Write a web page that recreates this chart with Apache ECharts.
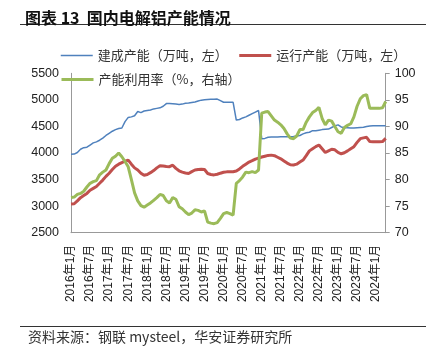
<!DOCTYPE html>
<html><head><meta charset="utf-8">
<script src="https://cdn.jsdelivr.net/npm/echarts@6/dist/echarts.min.js"></script>
<style>html,body{margin:0;padding:0;background:#fff}#c{width:426px;height:355px}</style>
</head><body><div id="c"></div>
<script>
// categories: monthly from 2016年1月 to 2024年4月
const startYear = 2016, monthCount = 100;
const categories = [];
for (let i = 0; i < monthCount; i++) {
  categories.push((startYear + Math.floor(i / 12)) + '年' + (i % 12 + 1) + '月');
}
const seriesNames = ['建成产能（万吨，左）', '运行产能（万吨，左）', '产能利用率（%，右轴）'];
const leftTicks = { min: 2500, max: 5500, interval: 500 };
const rightTicks = { min: 70, max: 100, interval: 5 };

const builtCapacity = [
3975,3980,4010,4070,4100,4110,4150,4190,4210,4240,
4280,4330,4370,4410,4440,4460,4470,4590,4670,4680,
4700,4780,4760,4790,4800,4810,4830,4840,4850,4880,
4930,4930,4925,4920,4915,4920,4935,4940,4950,4960,
4980,4995,5000,5005,5010,5010,5015,4985,4955,4955,
4955,4955,4620,4630,4660,4680,4710,4740,4770,4800,
4270,4275,4295,4300,4300,4300,4305,4305,4305,4305,
4310,4320,4330,4360,4380,4390,4420,4420,4430,4440,
4445,4450,4480,4510,4530,4490,4475,4475,4470,4470,
4475,4480,4485,4500,4510,4512,4512,4515,4515,4515];

const runningCapacity = [
3040,3045,3100,3160,3200,3240,3300,3335,3370,3430,
3490,3560,3620,3690,3750,3790,3820,3845,3865,3790,
3720,3680,3620,3580,3595,3630,3670,3720,3760,3755,
3745,3742,3770,3710,3665,3640,3625,3615,3650,3680,
3690,3692,3690,3615,3595,3588,3600,3620,3637,3645,
3648,3648,3660,3700,3750,3790,3830,3855,3885,3905,
3925,3940,3955,3960,3950,3920,3890,3850,3810,3778,
3775,3790,3830,3868,3950,4040,4080,4120,4150,4080,
4010,4040,4070,4060,4010,3985,4005,4040,4080,4119,
4200,4270,4285,4295,4215,4210,4212,4212,4215,4276];

const utilizationRate = [
76.6,76.7,77.2,77.4,77.8,78.6,79.3,79.6,79.8,80.9,
81.4,81.8,83.0,84.0,84.4,85.0,84.3,83.4,82.4,80.0,
77.5,76.0,75.1,74.8,75.2,75.6,76.1,76.6,77.2,77.0,
76.0,75.6,76.6,76.3,74.9,74.5,73.9,73.4,73.7,74.3,
74.2,73.9,74.1,72.0,71.8,71.7,71.9,72.7,73.6,73.8,
73.6,73.3,79.3,79.8,80.5,81.4,81.3,81.5,81.3,81.8,
92.5,92.7,92.8,92.0,91.2,90.8,90.3,89.6,88.6,87.8,
87.7,88.2,89.4,89.4,90.8,91.8,92.6,93.0,93.6,91.5,
90.3,91.2,91.0,90.0,89.0,88.7,89.8,90.2,90.5,91.8,
93.8,95.2,95.8,96.0,93.4,93.4,93.4,93.4,93.5,94.7];

const FONT = '"Liberation Sans", Arial, "Noto Sans CJK SC", sans-serif';
const CJK = '"Noto Sans CJK SC", "Liberation Sans", sans-serif';
const colors = ['#4F81BD', '#C0504D', '#9BBB59'];
const widths = [1.5, 3, 3];

function legendItem(i) {
  return { name: seriesNames[i], itemStyle: { opacity: 0 }, lineStyle: { width: widths[i], color: colors[i] } };
}

const chart = echarts.init(document.getElementById('c'), null, { renderer: 'canvas' });
chart.setOption({
  animation: false,
  backgroundColor: '#fff',
  title: {
    text: '图表 13  国内电解铝产能情况',
    left: 20, top: 5,
    textStyle: { fontSize: 16, fontWeight: 'bold', color: '#111', fontFamily: CJK }
  },
  graphic: [
    { type: 'line', shape: { x1: 20, y1: 24.5, x2: 426, y2: 24.5 }, style: { stroke: '#333', lineWidth: 1.2 } },
    { type: 'line', shape: { x1: 20, y1: 326.5, x2: 426, y2: 326.5 }, style: { stroke: '#333', lineWidth: 1.2 } },
    { type: 'text', left: 28, top: 330, style: { text: '资料来源：钢联 mysteel，华安证券研究所', font: '14px ' + CJK, fill: '#333' } }
  ],
  legend: [
    { data: [legendItem(0), legendItem(1)], left: 55, top: 44, itemWidth: 32, itemHeight: 12, itemGap: 10,
      textStyle: { fontSize: 13, color: '#333', fontFamily: CJK } },
    { data: [legendItem(2)], left: 55, top: 68, itemWidth: 32, itemHeight: 12,
      textStyle: { fontSize: 13, color: '#333', fontFamily: CJK } }
  ],
  grid: { left: 71, right: 40.3, top: 73.3, bottom: 122.3 },
  xAxis: {
    type: 'category', data: categories, boundaryGap: false,
    axisLine: { show: true, lineStyle: { color: '#999', width: 1 } },
    axisTick: { show: false },
    axisLabel: { interval: 5, rotate: 90, margin: 12, fontSize: 12, color: '#222', fontFamily: FONT },
    splitLine: { show: false }
  },
  yAxis: [
    { type: 'value', min: leftTicks.min, max: leftTicks.max, interval: leftTicks.interval,
      axisLine: { show: true, lineStyle: { color: '#999' } }, axisTick: { show: false },
      axisLabel: { margin: 12, fontSize: 12.5, color: '#222', fontFamily: FONT, formatter: v => String(v) },
      splitLine: { show: false } },
    { type: 'value', min: rightTicks.min, max: rightTicks.max, interval: rightTicks.interval, position: 'right',
      axisLine: { show: true, lineStyle: { color: '#999' } },
      axisTick: { show: true, inside: false, length: 4, lineStyle: { color: '#999' } },
      axisLabel: { margin: 9, fontSize: 12.5, color: '#222', fontFamily: FONT, formatter: v => String(v) },
      splitLine: { show: false } }
  ],
  series: [
    { name: seriesNames[0], type: 'line', yAxisIndex: 0, data: builtCapacity, symbol: 'none',
      lineStyle: { color: colors[0], width: widths[0] }, itemStyle: { color: colors[0] } },
    { name: seriesNames[1], type: 'line', yAxisIndex: 0, data: runningCapacity, symbol: 'none',
      lineStyle: { color: colors[1], width: widths[1] }, itemStyle: { color: colors[1] } },
    { name: seriesNames[2], type: 'line', yAxisIndex: 1, data: utilizationRate, symbol: 'none',
      lineStyle: { color: colors[2], width: widths[2] }, itemStyle: { color: colors[2] }, z: 3 }
  ]
});
</script></body></html>
